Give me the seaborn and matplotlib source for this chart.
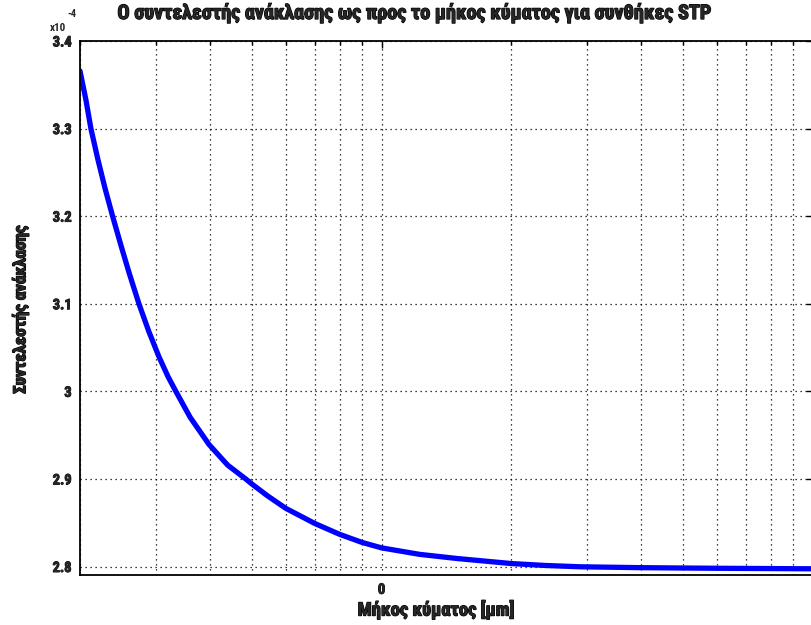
import numpy as np
import pandas as pd
import matplotlib
matplotlib.use("Agg")
import matplotlib.pyplot as plt
from matplotlib import font_manager as fm
from matplotlib import patheffects as pe
from matplotlib.ticker import FixedLocator, FuncFormatter, NullFormatter
import seaborn as sns

# Wavelength (μm) and reflection coefficient of air at STP
wavelength_um = [0.2000, 0.2064, 0.2120, 0.2200, 0.2285, 0.2380, 0.2500, 0.2600,
                 0.2739, 0.2888, 0.3046, 0.3200, 0.3336, 0.3600, 0.3982, 0.4400,
                 0.4843, 0.5000, 0.5437, 0.600, 0.700, 0.800, 0.900, 1.000,
                 1.2248, 1.500, 2.000, 2.397, 2.888, 4.000, 6.000, 10.00]
reflection = [3.3658e-4, 3.3329e-4, 3.3000e-4, 3.2649e-4, 3.2321e-4, 3.2000e-4,
              3.1633e-4, 3.1351e-4, 3.1000e-4, 3.0683e-4, 3.0398e-4, 3.0167e-4,
              3.0000e-4, 2.9704e-4, 2.9393e-4, 2.9157e-4, 2.9000e-4, 2.8944e-4,
              2.8808e-4, 2.8664e-4, 2.8492e-4, 2.8367e-4, 2.8276e-4, 2.8213e-4,
              2.8139e-4, 2.8091e-4, 2.8034e-4, 2.8012e-4, 2.7997e-4, 2.7987e-4,
              2.7980e-4, 2.7974e-4]

title_text = "Ο συντελεστής ανάκλασης ως προς το μήκος κύματος για συνθήκες STP"
xlabel_text = "Μήκος κύματος [μm]"
ylabel_text = "Συντελεστής ανάκλασης"
y_ticks = [2.8e-4, 2.9e-4, 3.0e-4, 3.1e-4, 3.2e-4, 3.3e-4, 3.4e-4]
x_major = [1.0, 10.0]
x_major_labels = ["0", ""]
x_minor = [0.2, 0.3, 0.4, 0.5, 0.6, 0.7, 0.8, 0.9, 2, 3, 4, 5, 6, 7, 8, 9]

sns.set_style("white")

# pick a narrow bold face if one is installed
entries = fm.fontManager.ttflist
names = {f.name for f in entries}
main_font = "DejaVu Sans"
stretch = "normal"
for cand in ["Liberation Sans Narrow", "Roboto Condensed", "Open Sans Condensed"]:
    if cand in names:
        main_font = cand
        break
else:
    if any(f.name == "DejaVu Sans" and "Condensed" in f.fname for f in entries):
        stretch = "condensed"
FONT = [main_font, "DejaVu Sans"]
plt.rcParams["font.family"] = FONT
plt.rcParams["font.weight"] = "bold"
plt.rcParams["font.stretch"] = stretch

# a thin outline in the text colour gives the heavy lettering
heavy = [pe.withStroke(linewidth=0.9, foreground="black")]

W, H = 811, 625
fig = plt.figure(figsize=(W / 100, H / 100), dpi=100)
fig.patch.set_facecolor("white")

# axes box in pixels: left 80, right 813, top 41, bottom 574.5
ax = fig.add_axes([80 / W, (H - 574.5) / H, (813 - 80) / W, (574.5 - 41) / H])
ax.set_facecolor("white")

df = pd.DataFrame({"wavelength": wavelength_um, "R": reflection})
sns.lineplot(data=df, x="wavelength", y="R", ax=ax, color=(0, 0, 1),
             linewidth=3.8, sort=True, estimator=None)
ax.lines[0].set_solid_joinstyle("round")

ax.set_xscale("log")
ax.set_xlim(0.2, 10.0)
ax.set_ylim(2.7909e-4, 3.4e-4)

ax.set_xticks(x_major)
ax.set_xticklabels(x_major_labels)
ax.xaxis.set_minor_locator(FixedLocator(x_minor))
ax.xaxis.set_minor_formatter(NullFormatter())
ax.yaxis.set_major_locator(FixedLocator(y_ticks))
ax.yaxis.set_major_formatter(FuncFormatter(lambda v, p: f"{v * 1e4:g}"))

grid_kw = dict(color="black", linestyle=(0, (1, 3)), linewidth=0.9)
ax.grid(True, which="major", axis="both", **grid_kw)
ax.grid(True, which="minor", axis="x", **grid_kw)

ax.tick_params(which="both", direction="in", top=True, right=True,
               color="black", width=1.0)
ax.tick_params(which="major", length=5, pad=6, labelsize=10.5)
ax.tick_params(which="minor", length=3)
for lab in ax.get_xticklabels() + ax.get_yticklabels():
    lab.set_fontweight("bold")
    lab.set_family(FONT)
    lab.set_fontstretch(stretch)
    lab.set_path_effects([pe.withStroke(linewidth=0.6, foreground="black")])

for sp in ax.spines.values():
    sp.set_color("black")
    sp.set_linewidth(1.3)

ax.set_xlabel("")
ax.set_ylabel("")

fig.canvas.draw()
renderer = fig.canvas.get_renderer()


def fit(txt, target_px, vertical=False, max_size=14.5):
    """Scale a text's font size so that its long side spans target_px."""
    bb = txt.get_window_extent(renderer)
    span = bb.height if vertical else bb.width
    size = txt.get_fontsize() * target_px / span
    txt.set_fontsize(min(size, max_size))


common = dict(fontweight="bold", family=FONT, fontstretch=stretch)
t_title = fig.text(414.5 / W, 1 - 13 / H, title_text, ha="center", va="center",
                   fontsize=13, path_effects=heavy, **common)
t_x = fig.text(436 / W, 1 - 610 / H, xlabel_text, ha="center", va="center",
               fontsize=13, path_effects=heavy, **common)
t_y = fig.text(20 / W, 1 - 310 / H, ylabel_text, ha="center", va="center",
               rotation=90, fontsize=13, path_effects=heavy, **common)
fit(t_title, 612)
fit(t_x, 156)
fit(t_y, 168, vertical=True)

# exponent marker of the y axis
fig.text(50 / W, 1 - 28 / H, "x10", ha="left", va="center", fontsize=8, **common)
fig.text(67 / W, 1 - 14 / H, "-4", ha="left", va="center", fontsize=7.5, **common)

fig.savefig("out.png", dpi=100, facecolor="white")
